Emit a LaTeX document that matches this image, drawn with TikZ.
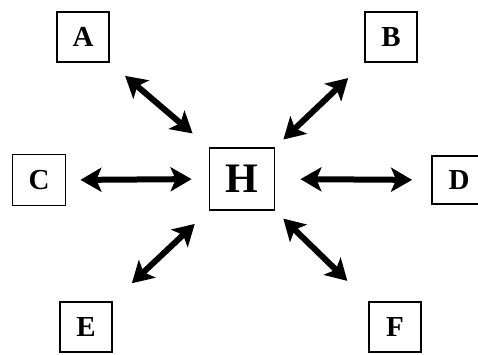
\documentclass[tikz,border=0pt]{standalone}
\usepackage{fontspec}
\setmainfont{Liberation Serif}
\usetikzlibrary{arrows.meta}
\begin{document}
\begin{tikzpicture}[x=1pt,y=1pt,
  letterbox/.style={draw, line width=1.8pt, minimum width=52pt, minimum height=50pt, inner sep=0pt, font=\fontsize{29}{29}\selectfont\bfseries},
  hubbox/.style={letterbox, minimum width=65pt, minimum height=62pt, font=\fontsize{42}{42}\selectfont\bfseries},
  dblarrow/.style={line width=6pt, {Stealth[length=21pt,width=24pt,inset=5pt]}-{Stealth[length=21pt,width=24pt,inset=5pt]}}]
\useasboundingbox (0,0) rectangle (478,355);
\clip (0,0) rectangle (478,355);
\node[letterbox] (A) at (83,318) {A};
\node[letterbox] (B) at (391,318) {B};
\node[letterbox, minimum width=53pt, minimum height=51pt] (C) at (39,175) {C};
\node[letterbox, minimum width=54pt, minimum height=48pt] (D) at (459,175) {D};
\node[letterbox] (E) at (86,28) {E};
\node[letterbox] (F) at (395,28) {F};
\node[hubbox] (H) at (242,176) {H};
\draw[dblarrow, shorten <=20pt, shorten >=21pt] (A.south east) -- (H.north west);
\draw[dblarrow, shorten <=14pt, shorten >=17pt] (C.east) -- (H.west);
\draw[dblarrow, shorten <=25pt, shorten >=19pt] (H.east) -- (D.west);
\draw[dblarrow, shorten <=22pt, shorten >=11pt] (B.south west) -- (H.north east);
\draw[dblarrow, shorten <=11pt, shorten >=29pt] (H.south east) -- (F.north west);
\draw[dblarrow, shorten <=26pt, shorten >=19pt] (E.north east) -- (H.south west);
\end{tikzpicture}
\end{document}
